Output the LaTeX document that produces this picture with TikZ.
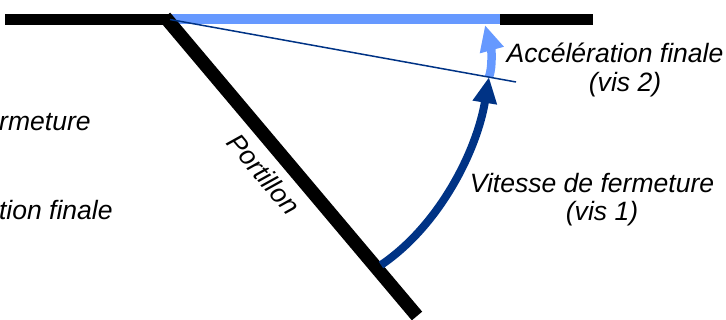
\documentclass[tikz,border=0pt]{standalone}
\usepackage{fontspec}
\setmainfont{Liberation Sans}
\definecolor{vitessebleu}{HTML}{003385}
\definecolor{accelbleu}{HTML}{6699FF}
\usetikzlibrary{arrows.meta, positioning}
\tikzset{
  legende/.style={font=\fontsize{15.1}{18}\selectfont\itshape, inner sep=0pt},
  fleche/.style={-{Triangle[length=0.52cm, width=0.46cm]}},
}
\begin{document}
\begin{tikzpicture}[x=0.02cm, y=-0.02cm]
      \useasboundingbox (0,0) rectangle (726,320);
      % Points
      \coordinate (murG) at (5,19.5);
      \coordinate (gond) at (170,19.5);
      \coordinate (ferme) at (500,19.5);
      \coordinate (murD) at (593,19.5);
      \coordinate (bout) at (417,316);
      \coordinate (charniere) at (165,17);
      \coordinate (limite) at (516,82);
      \coordinate (depart) at (381,265);
      \coordinate (vis) at (489,77);
      \coordinate (arrivee) at (485,25);
      % Closed position
      \draw[accelbleu, line width=0.2cm] (gond) -- (ferme);
      \draw[line width=0.22cm] (murG) -- (gond);
      \draw[line width=0.22cm] (ferme) -- (murD);
      % Gate
      \draw[line width=0.27cm] (charniere) -- (bout);
      \node[legende, rotate=-50] (portillon) at (264,174) {Portillon};
      % Arcs
      \draw[fleche, accelbleu, line width=0.17cm] (vis) .. controls (493,66) and (491,47) .. (arrivee);
      \draw[vitessebleu, line width=0.03cm] (gond) -- (limite);
      \draw[fleche, vitessebleu, line width=0.16cm] (depart) .. controls (440,225) and (477,150) .. (vis);
      % Labels
      \node[legende] (accel) at (615,53) {Accélération finale};
      \node[legende] (vis2) at (625,85) {(vis 2)};
      \node[legende] (vitesse) at (592,183) {Vitesse de fermeture};
      \node[legende] (vis1) at (602,214) {(vis 1)};
      \node[legende, anchor=east] (fermeture) at (91,122) {rmeture};
      \node[legende, anchor=east] (finale) at (113,210) {tion finale};
    \end{tikzpicture}
\end{document}
